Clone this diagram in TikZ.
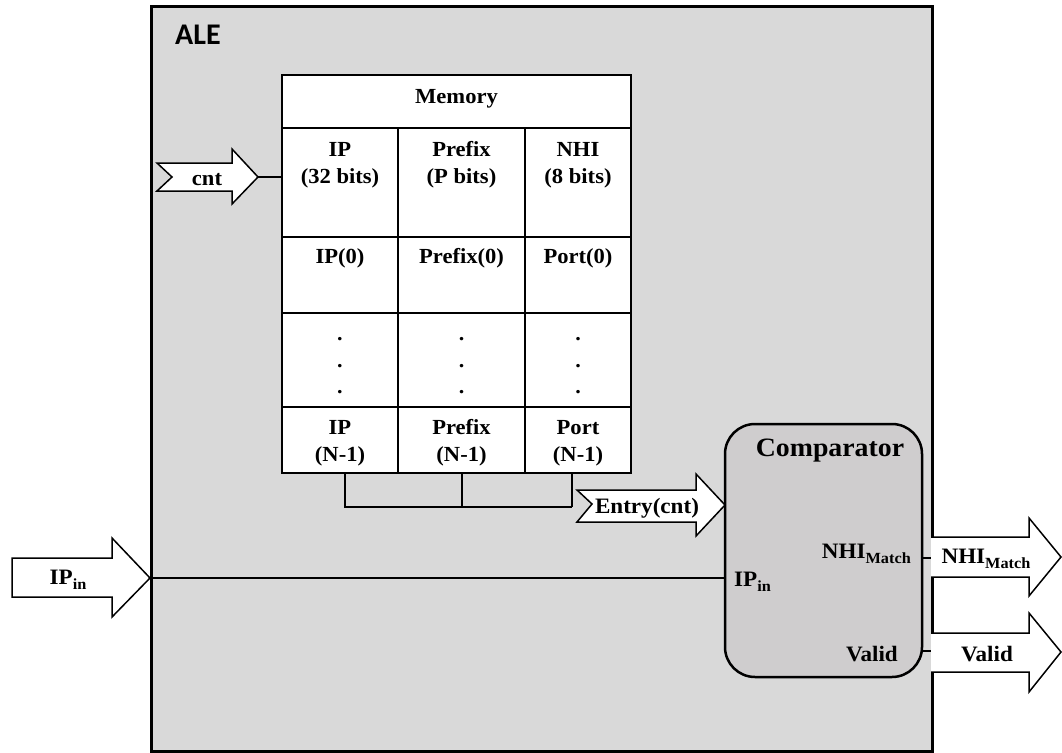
\documentclass[tikz,border=0pt]{standalone}
\usepackage{fontspec}
\setmainfont{Liberation Serif}[FakeStretch=1.05]
\newfontfamily\alefont{Carlito}
% lowered, smaller index text as used in the signal names
\newcommand\lowsub[1]{\raisebox{-5pt}{\fontsize{15.5}{15.5}\selectfont #1}}
\begin{document}
\begin{tikzpicture}[x=1pt,y=-1pt,
  blockbox/.style={draw, line width=3pt, fill=aleGray},
  cellbox/.style={draw, line width=2pt, fill=white, inner sep=0pt},
  txt/.style={font=\bfseries\fontsize{21.5}{27}\selectfont, align=center, inner sep=0pt},
  iotxt/.style={font=\bfseries\fontsize{22}{27}\selectfont, inner sep=0pt},
  fatarrow/.style={draw, line width=1.5pt, fill=white, line join=miter},
  wire/.style={draw, line width=2.5pt},
  compbox/.style={draw, line width=2.5pt, fill=compGray, rounded corners=30pt, inner sep=0pt}]
\definecolor{aleGray}{HTML}{D9D9D9}
\definecolor{compGray}{HTML}{CFCDCE}
\useasboundingbox (0,0) rectangle (1062,752);
\fill[white] (0,0) rectangle (1062,752);

% ALE block
\draw[blockbox] (151,7) rectangle (932,751);
\node[anchor=west, inner sep=0pt, font=\alefont\bfseries\fontsize{30}{30}\selectfont] (ale) at (175,35) {ALE};

% Memory table: cells
\node[cellbox, minimum width=349pt, minimum height=53pt] (mem) at (456.5,101.5) {};
\node[cellbox, minimum width=116pt, minimum height=109pt] (ipH) at (340,182.5) {};
\node[cellbox, minimum width=127pt, minimum height=109pt] (pfH) at (461.5,182.5) {};
\node[cellbox, minimum width=106pt, minimum height=109pt] (ptH) at (578,182.5) {};
\node[cellbox, minimum width=116pt, minimum height=76pt] (ip0) at (340,275) {};
\node[cellbox, minimum width=127pt, minimum height=76pt] (pf0) at (461.5,275) {};
\node[cellbox, minimum width=106pt, minimum height=76pt] (pt0) at (578,275) {};
\node[cellbox, minimum width=116pt, minimum height=94pt] (ipD) at (340,360) {};
\node[cellbox, minimum width=127pt, minimum height=94pt] (pfD) at (461.5,360) {};
\node[cellbox, minimum width=106pt, minimum height=94pt] (ptD) at (578,360) {};
\node[cellbox, minimum width=116pt, minimum height=66pt] (ipN) at (340,440) {};
\node[cellbox, minimum width=127pt, minimum height=66pt] (pfN) at (461.5,440) {};
\node[cellbox, minimum width=106pt, minimum height=66pt] (ptN) at (578,440) {};

% Memory table: contents
\node[txt] (memT) at (456.5,99) {Memory};
\node[txt] (ipHT) at (340,165) {IP\\(32 bits)};
\node[txt] (pfHT) at (461.5,165) {Prefix\\(P bits)};
\node[txt] (ptHT) at (578,165) {NHI\\(8 bits)};
\node[txt] (ip0T) at (340,258) {IP(0)};
\node[txt] (pf0T) at (461.5,258) {Prefix(0)};
\node[txt] (pt0T) at (578,258) {Port(0)};
\node[txt, font=\bfseries\fontsize{21}{26.5}\selectfont] (ipDT) at (340,366) {.\\.\\.};
\node[txt, font=\bfseries\fontsize{21}{26.5}\selectfont] (pfDT) at (461.5,366) {.\\.\\.};
\node[txt, font=\bfseries\fontsize{21}{26.5}\selectfont] (ptDT) at (578,366) {.\\.\\.};
\node[txt] (ipNT) at (340,443) {IP\\(N-1)};
\node[txt] (pfNT) at (461.5,443) {Prefix\\(N-1)};
\node[txt] (ptNT) at (578,443) {Port\\(N-1)};

% cnt input arrow
\draw[fatarrow] (157,163) -- (232,163) -- (232,149) -- (258,177) coordinate (cntTip)
  -- (232,204) -- (232,191) -- (157,191) -- (172,177) -- cycle;
\node[txt] (cntT) at (207,180) {cnt};
\draw[line width=2pt] (cntTip) -- (cntTip -| ipH.west);

% Output bus of the memory
\coordinate (busEnd) at (572,507);
\draw[wire] ([xshift=5pt]ipN.south) |- (busEnd);
\draw[wire] ([xshift=0.5pt]pfN.south) -- ([xshift=0.5pt]pfN.south |- busEnd);
\draw[wire] ([xshift=-6pt]ptN.south) -- (busEnd);

% Entry(cnt) arrow
\draw[fatarrow] (577,490) -- (696,490) -- (696,474) -- (725,505) coordinate (entryTip)
  -- (696,536) -- (696,522) -- (577,522) -- (592,504) -- cycle;
\node[iotxt] (entryT) at (647,508) {Entry(cnt)};

% Comparator
\node[compbox, minimum width=197pt, minimum height=253pt] (cmp) at (823.5,550.5) {};
\node[inner sep=0pt, font=\bfseries\fontsize{26.5}{30}\selectfont] (cmpT) at (830,451) {Comparator};
\node[iotxt, anchor=east] (cmpNhi) at (911,554) {NHI\lowsub{Match}};
\node[iotxt, anchor=west] (cmpIp) at (734,582) {IP\lowsub{in}};
\node[iotxt, anchor=east] (cmpVal) at (898,654) {Valid};

% IP_in input arrow and line
\draw[fatarrow] (12,558) -- (112,558) -- (112,538) -- (150,578) coordinate (ipinTip)
  -- (112,617) -- (112,597) -- (12,597) -- cycle;
\node[iotxt] (ipinT) at (68,580) {IP\lowsub{in}};
\draw[wire] (ipinTip) -- (ipinTip -| cmp.west);

% NHI_Match output
\coordinate (nhiOut) at (931,558);
\draw[fatarrow] (931,537) -- (1029,537) -- (1029,518) -- (1061,557) -- (1029,596)
  -- (1029,577) -- (931,577);
\node[iotxt] (nhiT) at (986,559) {NHI\lowsub{Match}};
\draw[wire] (nhiOut -| cmp.east) -- (nhiOut);

% Valid output
\coordinate (valOut) at (931,651);
\draw[fatarrow] (931,633) -- (1029,633) -- (1029,613) -- (1061,652) -- (1029,692)
  -- (1029,672) -- (931,672);
\node[iotxt] (valT) at (987,654) {Valid};
\draw[wire] (valOut -| cmp.east) -- (valOut);
\end{tikzpicture}
\end{document}
